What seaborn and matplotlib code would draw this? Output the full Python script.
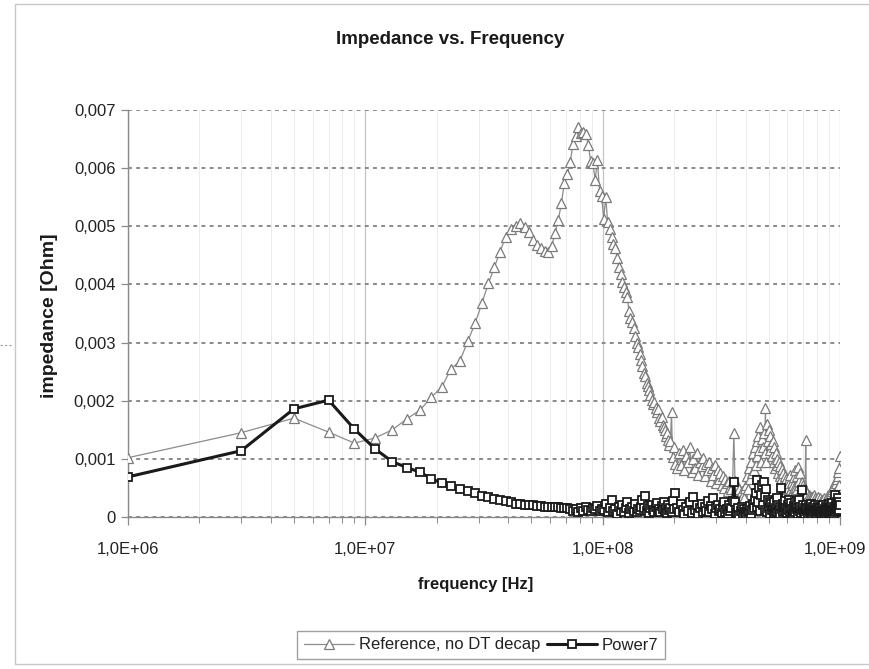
import numpy as np
import pandas as pd
import matplotlib
matplotlib.use("Agg")
import matplotlib.pyplot as plt
import seaborn as sns
from matplotlib.ticker import FixedLocator, FuncFormatter, LogLocator, NullFormatter
from matplotlib.lines import Line2D
import matplotlib.transforms as mtransforms

# ---------------- data ----------------
# frequency sweep in MHz: 2 MHz steps below 200 MHz, 4 MHz steps above
freq_lo_mhz = np.arange(1, 200, 2)
freq_hi_mhz = np.arange(201, 1000, 4)

# "Reference, no DT decap" impedance, milliohm
ref_lo_mohm = [
    1.02, 1.45, 1.70, 1.46, 1.27, 1.36, 1.50, 1.69, 1.84, 2.06,
    2.24, 2.55, 2.68, 3.02, 3.33, 3.68, 4.02, 4.30, 4.56, 4.82,
    4.95, 5.00, 5.06, 4.99, 4.90, 4.76, 4.68, 4.62, 4.57, 4.55,
    4.66, 4.88, 5.10, 5.40, 5.75, 5.90, 6.10, 6.42, 6.55, 6.70,
    6.60, 6.62, 6.58, 6.40, 6.12, 6.08, 5.80, 6.14, 5.60, 5.52,
    5.12, 5.50, 5.08, 4.95, 4.82, 4.70, 4.62, 4.46, 4.30, 4.18,
    4.05, 3.95, 3.87, 3.78, 3.55, 3.42, 3.35, 3.25, 3.12, 3.00,
    2.92, 2.80, 2.70, 2.60, 2.48, 2.42, 2.30, 2.25, 2.18, 2.10,
    2.02, 1.95, 1.98, 1.88, 1.80, 1.85, 1.70, 1.65, 1.72, 1.58,
    1.55, 1.50, 1.40, 1.45, 1.32, 1.24, 1.30, 1.81, 1.03, 1.20,
]
ref_hi_mohm = [
    0.92, 0.85, 1.10, 0.90, 1.15, 0.80, 1.05, 0.95, 1.20, 0.78,
    1.00, 0.85, 1.10, 0.72, 0.95, 0.88, 1.02, 0.70, 0.92, 0.80,
    0.95, 0.62, 0.85, 0.72, 0.90, 0.58, 0.80, 0.66, 0.75, 0.55,
    0.70, 0.50, 0.66, 0.58, 0.45, 0.62, 0.52, 0.48, 0.60, 1.45,
    0.62, 0.40, 0.55, 0.35, 0.48, 0.30, 0.45, 0.38, 0.32, 0.50,
    0.55, 0.70, 0.48, 0.85, 0.65, 0.95, 0.75, 1.10, 0.80, 1.20,
    0.90, 1.30, 1.05, 1.40, 1.15, 1.55, 0.95, 1.35, 1.20, 1.45,
    1.10, 1.88, 0.95, 1.60, 1.30, 1.50, 1.15, 1.40, 1.25, 1.05,
    1.30, 0.95, 1.20, 0.85, 1.10, 0.90, 1.00, 0.75, 0.95, 0.70,
    0.88, 0.65, 0.82, 0.60, 0.75, 0.55, 0.70, 0.52, 0.65, 0.48,
    0.62, 0.50, 0.58, 0.45, 0.72, 0.48, 0.60, 0.42, 0.55, 0.50,
    0.68, 0.45, 0.80, 0.52, 0.70, 0.48, 0.86, 0.55, 0.62, 0.45,
    0.75, 0.42, 0.60, 0.40, 0.55, 0.38, 0.50, 0.35, 0.45, 1.33,
    0.40, 0.32, 0.42, 0.28, 0.38, 0.30, 0.36, 0.25, 0.34, 0.28,
    0.35, 0.24, 0.33, 0.26, 0.38, 0.22, 0.32, 0.25, 0.30, 0.20,
    0.30, 0.22, 0.35, 0.20, 0.28, 0.24, 0.32, 0.18, 0.27, 0.22,
    0.30, 0.20, 0.26, 0.22, 0.32, 0.18, 0.28, 0.24, 0.30, 0.21,
    0.33, 0.25, 0.38, 0.22, 0.35, 0.28, 0.40, 0.26, 0.42, 0.30,
    0.45, 0.32, 0.48, 0.35, 0.52, 0.38, 0.55, 0.40, 0.60, 0.45,
    0.58, 0.42, 0.65, 0.48, 0.70, 0.52, 0.78, 0.55, 0.85, 1.05,
]

# "Power7" impedance, milliohm
pow_lo_mohm = [
    0.69, 1.14, 1.86, 2.01, 1.51, 1.17, 0.95, 0.85, 0.77, 0.66,
    0.58, 0.53, 0.49, 0.45, 0.41, 0.36, 0.35, 0.31, 0.29, 0.27,
    0.25, 0.23, 0.22, 0.21, 0.20, 0.20, 0.19, 0.19, 0.18, 0.18,
    0.18, 0.17, 0.17, 0.16, 0.16, 0.15, 0.14, 0.10, 0.13, 0.09,
    0.15, 0.11, 0.17, 0.12, 0.10, 0.16, 0.13, 0.19, 0.11, 0.14,
    0.12, 0.22, 0.08, 0.16, 0.29, 0.10, 0.14, 0.06, 0.18, 0.11,
    0.20, 0.09, 0.15, 0.25, 0.07, 0.13, 0.17, 0.10, 0.22, 0.08,
    0.14, 0.12, 0.18, 0.30, 0.16, 0.36, 0.10, 0.19, 0.07, 0.15,
    0.21, 0.12, 0.09, 0.17, 0.24, 0.11, 0.14, 0.08, 0.19, 0.13,
    0.26, 0.10, 0.16, 0.07, 0.20, 0.12, 0.15, 0.09, 0.28, 0.13,
]
pow_hi_mohm = [
    0.41, 0.15, 0.08, 0.22, 0.12, 0.05, 0.18, 0.10, 0.26, 0.07,
    0.34, 0.12, 0.20, 0.06, 0.15, 0.23, 0.09, 0.17, 0.11, 0.28,
    0.08, 0.19, 0.13, 0.33, 0.06, 0.16, 0.21, 0.10, 0.14, 0.07,
    0.18, 0.25, 0.09, 0.13, 0.05, 0.20, 0.11, 0.16, 0.27, 0.60,
    0.26, 0.12, 0.07, 0.15, 0.04, 0.10, 0.18, 0.06, 0.13, 0.09,
    0.05, 0.14, 0.08, 0.11, 0.19, 0.06, 0.12, 0.22, 0.15, 0.30,
    0.42, 0.18, 0.64, 0.25, 0.50, 0.10, 0.38, 0.55, 0.20, 0.60,
    0.35, 0.12, 0.48, 0.08, 0.30, 0.15, 0.26, 0.05, 0.22, 0.12,
    0.18, 0.07, 0.25, 0.10, 0.15, 0.32, 0.08, 0.20, 0.12, 0.17,
    0.06, 0.50, 0.14, 0.22, 0.09, 0.18, 0.27, 0.11, 0.15, 0.07,
    0.20, 0.12, 0.30, 0.08, 0.16, 0.24, 0.10, 0.14, 0.05, 0.19,
    0.11, 0.26, 0.08, 0.17, 0.13, 0.22, 0.06, 0.15, 0.29, 0.10,
    0.18, 0.07, 0.14, 0.46, 0.12, 0.21, 0.09, 0.16, 0.06, 0.13,
    0.20, 0.10, 0.15, 0.05, 0.12, 0.18, 0.08, 0.14, 0.22, 0.09,
    0.13, 0.06, 0.17, 0.11, 0.08, 0.15, 0.21, 0.07, 0.12, 0.16,
    0.05, 0.10, 0.18, 0.08, 0.13, 0.06, 0.15, 0.11, 0.09, 0.17,
    0.07, 0.12, 0.20, 0.10, 0.06, 0.14, 0.09, 0.18, 0.11, 0.05,
    0.13, 0.08, 0.16, 0.12, 0.22, 0.07, 0.10, 0.15, 0.06, 0.19,
    0.09, 0.14, 0.24, 0.08, 0.12, 0.18, 0.06, 0.38, 0.15, 0.10,
    0.20, 0.08, 0.13, 0.26, 0.10, 0.16, 0.32, 0.12, 0.25, 0.20,
]

series_names = ["Reference, no DT decap", "Power7"]
y_ticks = [0, 0.001, 0.002, 0.003, 0.004, 0.005, 0.006, 0.007]
x_ticks = [1e6, 1e7, 1e8, 1e9]

freq_hz = np.concatenate([freq_lo_mhz, freq_hi_mhz]) * 1e6
df_ref = pd.DataFrame({"freq": freq_hz,
                       "z": np.array(ref_lo_mohm + ref_hi_mohm) / 1000.0})
df_pow = pd.DataFrame({"freq": freq_hz,
                       "z": np.array(pow_lo_mohm + pow_hi_mohm) / 1000.0})

# ---------------- style ----------------
sns.set_theme(style="white")
plt.rcParams["font.family"] = ["Liberation Sans", "DejaVu Sans"]

W, H = 869, 669
fig = plt.figure(figsize=(W / 100, H / 100), dpi=100)
fig.patch.set_facecolor("white")
ax = fig.add_axes([128 / W, 1 - 517 / H, (840 - 128) / W, (517 - 110) / H])
ax.set_facecolor("white")

sns.lineplot(data=df_ref, x="freq", y="z", ax=ax, estimator=None, sort=False,
             color="#8c8c8c", linewidth=0.9, marker="^", markersize=7,
             markerfacecolor="white", markeredgecolor="#7a7a7a",
             markeredgewidth=0.9, label=series_names[0], zorder=3)
sns.lineplot(data=df_pow, x="freq", y="z", ax=ax, estimator=None, sort=False,
             color="#1a1a1a", linewidth=2.2, marker="s", markersize=6,
             markerfacecolor="white", markeredgecolor="#1a1a1a",
             markeredgewidth=1.3, label=series_names[1], zorder=4)

ax.set_xscale("log")
ax.set_xlim(1e6, 1e9)
ax.set_ylim(0, 0.007)

ax.xaxis.set_major_locator(FixedLocator(x_ticks))
ax.xaxis.set_minor_locator(LogLocator(base=10, subs=np.arange(2, 10)))
ax.xaxis.set_minor_formatter(NullFormatter())


def fmt_x(v, pos):
    e = int(round(np.log10(v)))
    m = v / 10 ** e
    return f"{m:.1f}".replace(".", ",") + f"E+{e:02d}"


def fmt_y(v, pos):
    if abs(v) < 1e-12:
        return "0"
    return f"{v:.3f}".replace(".", ",")


ax.xaxis.set_major_formatter(FuncFormatter(fmt_x))
ax.yaxis.set_major_locator(FixedLocator(y_ticks))
ax.yaxis.set_major_formatter(FuncFormatter(fmt_y))

ax.set_axisbelow(True)
ax.yaxis.grid(True, which="major", color="#8a8a8a", linewidth=1.4,
              linestyle=(0, (2, 2.2)))
ax.xaxis.grid(True, which="major", color="#c4c4c4", linewidth=0.9)
ax.xaxis.grid(True, which="minor", color="#ececec", linewidth=0.7)

for s in ["top", "right"]:
    ax.spines[s].set_visible(False)
for s in ["left", "bottom"]:
    ax.spines[s].set_color("#8a8a8a")
    ax.spines[s].set_linewidth(1.0)

ax.tick_params(axis="both", which="both", bottom=True, left=True,
               direction="out", color="#8a8a8a", labelcolor="#222222")
ax.tick_params(axis="y", which="major", length=5, width=0.9, pad=4,
               labelsize=12)
ax.tick_params(axis="x", which="major", length=6, width=0.9, pad=12,
               labelsize=12)
ax.tick_params(axis="x", which="minor", length=4, width=0.7)

ax.set_xlabel("")
ax.set_ylabel("")
if ax.get_legend() is not None:
    ax.get_legend().remove()

# keep the last x tick label inside the figure (as in the reference)
fig.canvas.draw()
xlabels = ax.get_xticklabels()
if xlabels:
    shift = mtransforms.ScaledTranslation(-5 / 100, 0, fig.dpi_scale_trans)
    xlabels[-1].set_transform(xlabels[-1].get_transform() + shift)

fig.text(450 / W, 1 - 40 / H, "Impedance vs. Frequency", ha="center",
         va="center", fontsize=13.5, fontweight="bold", color="#1a1a1a")
fig.text(476 / W, 1 - 584 / H, "frequency [Hz]", ha="center", va="center",
         fontsize=12, fontweight="bold", color="#1a1a1a")
fig.text(50 / W, 1 - 316 / H, "impedance [Ohm]", ha="center", va="center",
         rotation=90, fontsize=14, fontweight="bold", color="#1a1a1a")

handles, labels = ax.get_legend_handles_labels()
leg = fig.legend(handles, labels, loc="center",
                 bbox_to_anchor=(481 / W, 1 - 645 / H), ncol=2,
                 frameon=True, fancybox=False, edgecolor="#a0a0a0",
                 fontsize=12, handlelength=3.0, handletextpad=0.3,
                 columnspacing=0.4, borderpad=0.4, framealpha=1)
leg.get_frame().set_linewidth(1.0)
for t in leg.get_texts():
    t.set_color("#222222")

# chart-area frame (left, top, bottom edges)
frame_kw = dict(transform=fig.transFigure, color="#c8c8c8", linewidth=1.0)
fig.add_artist(Line2D([15 / W, 15 / W], [1 - 664 / H, 1 - 4 / H], **frame_kw))
fig.add_artist(Line2D([15 / W, 1.0], [1 - 4 / H, 1 - 4 / H], **frame_kw))
fig.add_artist(Line2D([15 / W, 1.0], [1 - 664 / H, 1 - 664 / H], **frame_kw))
fig.add_artist(Line2D([0 / W, 13 / W], [1 - 345 / H, 1 - 345 / H],
                      transform=fig.transFigure, color="#9a9a9a",
                      linewidth=0.8, linestyle=(0, (2, 2))))

fig.savefig("out.png", dpi=100, facecolor="white")
